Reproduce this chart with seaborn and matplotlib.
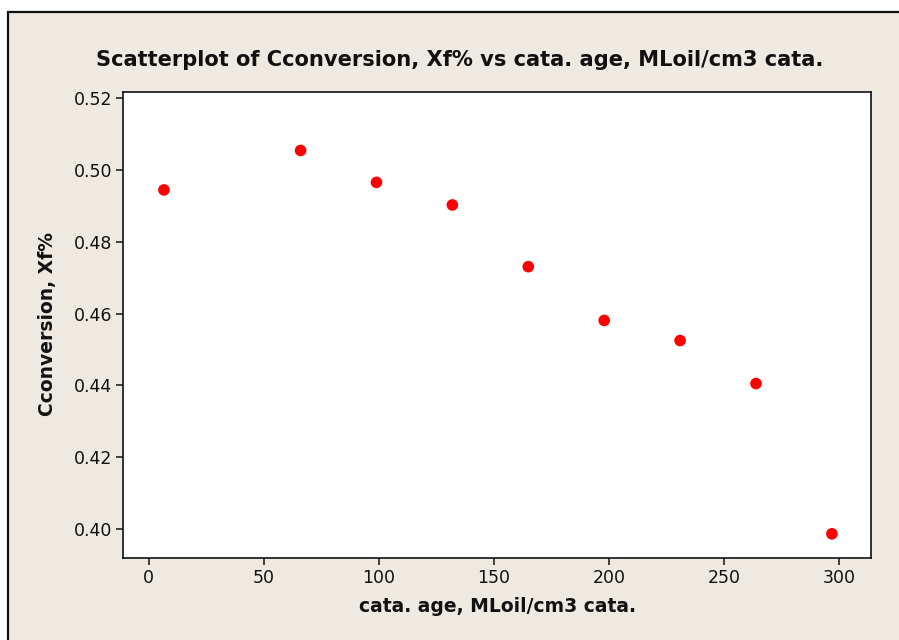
import matplotlib
matplotlib.use("Agg")
import matplotlib.pyplot as plt
import seaborn as sns
import pandas as pd
from matplotlib.patches import Rectangle

# Data
cata_age = [6.6, 66, 99, 132, 165, 198, 231, 264, 297]
conversion = [0.4945, 0.5055, 0.4966, 0.4903, 0.4731, 0.4581, 0.4525, 0.4405, 0.3986]
x_ticks = [0, 50, 100, 150, 200, 250, 300]
y_ticks = [0.40, 0.42, 0.44, 0.46, 0.48, 0.50, 0.52]
title = "Scatterplot of Cconversion, Xf% vs cata. age, MLoil/cm3 cata."
xlabel = "cata. age, MLoil/cm3 cata."
ylabel = "Cconversion, Xf%"

df = pd.DataFrame({"age": cata_age, "conv": conversion})

sns.set_theme(style="white")
plt.rcParams["font.family"] = ["DejaVu Sans"]

W, H = 899, 640
fig = plt.figure(figsize=(W / 100, H / 100), dpi=100, facecolor="white")

# Beige outer frame
bg = "#EEEAE1"
fig.patches.append(Rectangle((8 / W, -0.05), 1.1, 1 - 12 / H + 0.05,
                             transform=fig.transFigure, facecolor=bg,
                             edgecolor="#111111", linewidth=1.6, zorder=-10))

left, right, top, bottom = 123, 871, 92, 557.5
ax = fig.add_axes([left / W, 1 - bottom / H, (right - left) / W, (bottom - top) / H])
ax.set_zorder(1)
ax.set_facecolor("white")

sns.scatterplot(data=df, x="age", y="conv", ax=ax, color="#FF0000",
                s=70, edgecolor="none", zorder=3)

ax.set_xlim(-11.2, 314.0)
ax.set_ylim(0.392, 0.5218)
ax.set_xticks(x_ticks)
ax.set_xticklabels([str(v) for v in x_ticks])
ax.set_yticks(y_ticks)
ax.set_yticklabels([f"{v:.2f}" for v in y_ticks])

for sp in ax.spines.values():
    sp.set_visible(True)
    sp.set_color("#111111")
    sp.set_linewidth(1.2)

ax.tick_params(axis="both", direction="out", length=5, width=1.1, color="#111111",
               labelsize=12.5, labelcolor="#111111", pad=3,
               bottom=True, left=True, top=False, right=False)

ax.set_xlabel("")
ax.set_ylabel("")
fig.text(497 / W, 1 - 607 / H, xlabel, ha="center", va="center",
         fontsize=13.5, fontweight="bold", color="#111111", zorder=5)
fig.text(48 / W, 1 - 324 / H, ylabel, ha="center", va="center", rotation=90,
         fontsize=13.5, fontweight="bold", color="#111111", zorder=5)
fig.text(460 / W, 1 - 60 / H, title, ha="center", va="center",
         fontsize=15.1, fontweight="bold", color="#111111", zorder=5)

fig.savefig("out.png", dpi=100, facecolor="white")
